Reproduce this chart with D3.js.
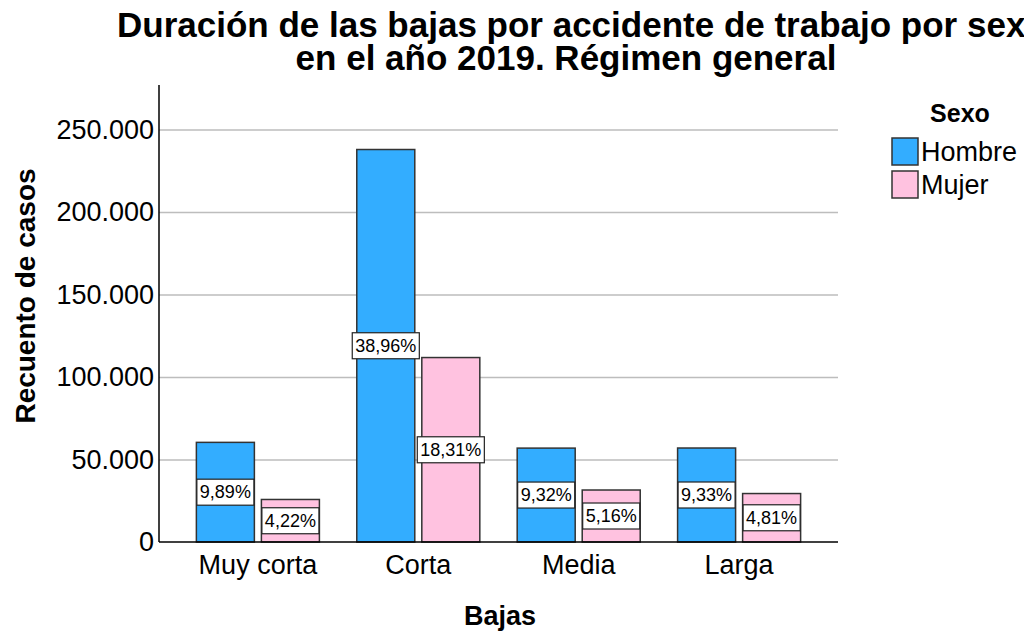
<!DOCTYPE html>
<html>
<head>
<meta charset="utf-8">
<script src="https://cdn.jsdelivr.net/npm/d3@7"></script>
<style>
  body { margin: 0; background: #fff; }
  svg { font-family: "Liberation Sans", Arial, sans-serif; }
</style>
</head>
<body>
<div id="chart"></div>
<script>
// data
const categories = ["Muy corta", "Corta", "Media", "Larga"];
const series = ["Hombre", "Mujer"];
const hombre = [60390, 237900, 56910, 56970];
const mujer = [25770, 111800, 31510, 29370];
const percentLabels = {
  Hombre: ["9,89%", "38,96%", "9,32%", "9,33%"],
  Mujer: ["4,22%", "18,31%", "5,16%", "4,81%"]
};
const yTicks = [0, 50000, 100000, 150000, 200000, 250000];

const width = 1024, height = 632;
const marginLeft = 159, marginRight = 186, marginTop = 85, marginBottom = 90;
const colors = ["#33adff", "#ffc2e0"];

const data = [];
categories.forEach((c, i) => {
  data.push({cat: c, sex: "Hombre", value: hombre[i], label: percentLabels.Hombre[i]});
  data.push({cat: c, sex: "Mujer", value: mujer[i], label: percentLabels.Mujer[i]});
});

const locale = d3.formatLocale({decimal: ",", thousands: ".", grouping: [3], currency: ["", "€"]});
const fmt = locale.format(",d");

const x = d3.scaleBand(categories, [marginLeft, width - marginRight]).padding(0.233);
const xz = d3.scaleBand(series, [0, x.bandwidth()]).paddingInner(0.108);
const y = d3.scaleLinear([0, 277000], [height - marginBottom, marginTop]);
const color = d3.scaleOrdinal(series, colors);

const svg = d3.select("#chart").append("svg")
    .attr("width", width)
    .attr("height", height)
    .attr("viewBox", [0, 0, width, height]);

// title (first line runs off the right edge, as in the original)
const title = svg.append("g")
    .attr("font-weight", "bold")
    .attr("font-size", "35px");
title.append("text")
    .attr("x", 117)
    .attr("y", 37)
    .text("Duración de las bajas por accidente de trabajo por sexo");
title.append("text")
    .attr("x", 566)
    .attr("y", 70)
    .attr("text-anchor", "middle")
    .text("en el año 2019. Régimen general");

// grid + y axis
svg.append("g")
    .attr("transform", `translate(${marginLeft},0)`)
    .call(d3.axisLeft(y).tickValues(yTicks).tickFormat(fmt).tickSize(0).tickPadding(5))
    .call(g => g.select(".domain").remove())
    .call(g => g.selectAll(".tick text").attr("font-size", "27px").attr("fill", "#000").attr("font-family", null))
    .call(g => g.selectAll(".tick").filter(d => d > 0).append("line")
        .attr("x2", width - marginLeft - marginRight)
        .attr("stroke", "#bdbdbd")
        .attr("stroke-width", 1.5));

// bars
const bar = svg.append("g")
  .selectAll("g")
  .data(data)
  .join("g")
    .attr("transform", d => `translate(${x(d.cat) + xz(d.sex)},0)`);

bar.append("rect")
    .attr("y", d => y(d.value))
    .attr("width", xz.bandwidth())
    .attr("height", d => y(0) - y(d.value))
    .attr("fill", d => color(d.sex))
    .attr("stroke", "#333")
    .attr("stroke-width", 1.5);

// percentage labels in boxes
bar.each(function(d) {
  const g = d3.select(this);
  const cy = (y(d.value) + y(0)) / 2;
  const t = g.append("text")
      .attr("x", xz.bandwidth() / 2)
      .attr("y", cy)
      .attr("dy", "0.35em")
      .attr("text-anchor", "middle")
      .attr("font-size", "18px")
      .text(d.label);
  const w = t.node().getComputedTextLength() + 6;
  g.insert("rect", "text")
      .attr("x", xz.bandwidth() / 2 - w / 2)
      .attr("y", cy - 13)
      .attr("width", w)
      .attr("height", 26)
      .attr("fill", "#fff")
      .attr("stroke", "#222")
      .attr("stroke-width", 1.2);
});

// axes lines
svg.append("line")
    .attr("x1", marginLeft).attr("x2", marginLeft)
    .attr("y1", marginTop).attr("y2", y(0))
    .attr("stroke", "#000").attr("stroke-width", 1.5);
svg.append("line")
    .attr("x1", marginLeft).attr("x2", width - marginRight)
    .attr("y1", y(0)).attr("y2", y(0))
    .attr("stroke", "#000").attr("stroke-width", 1.5);

// x axis labels
svg.append("g")
    .attr("transform", `translate(0,${y(0)})`)
    .call(d3.axisBottom(x).tickSize(0).tickPadding(13))
    .call(g => g.select(".domain").remove())
    .call(g => g.selectAll(".tick text").attr("font-size", "27px").attr("fill", "#000").attr("font-family", null));

// axis titles
svg.append("text")
    .attr("x", 500)
    .attr("y", 625)
    .attr("text-anchor", "middle")
    .attr("font-weight", "bold")
    .attr("font-size", "27px")
    .text("Bajas");

svg.append("text")
    .attr("transform", `translate(35,296) rotate(-90)`)
    .attr("text-anchor", "middle")
    .attr("font-weight", "bold")
    .attr("font-size", "28px")
    .text("Recuento de casos");

// legend
const legend = svg.append("g");
legend.append("text")
    .attr("x", 960)
    .attr("y", 122)
    .attr("text-anchor", "middle")
    .attr("font-weight", "bold")
    .attr("font-size", "25px")
    .text("Sexo");
const item = legend.selectAll("g")
  .data(series)
  .join("g")
    .attr("transform", (d, i) => `translate(892,${138 + i * 33})`);
item.append("rect")
    .attr("width", 26)
    .attr("height", 27)
    .attr("fill", d => color(d))
    .attr("stroke", "#333")
    .attr("stroke-width", 1.5);
item.append("text")
    .attr("x", 29)
    .attr("y", 13.5)
    .attr("dy", "0.35em")
    .attr("font-size", "27px")
    .text(d => d);
</script>
</body>
</html>
